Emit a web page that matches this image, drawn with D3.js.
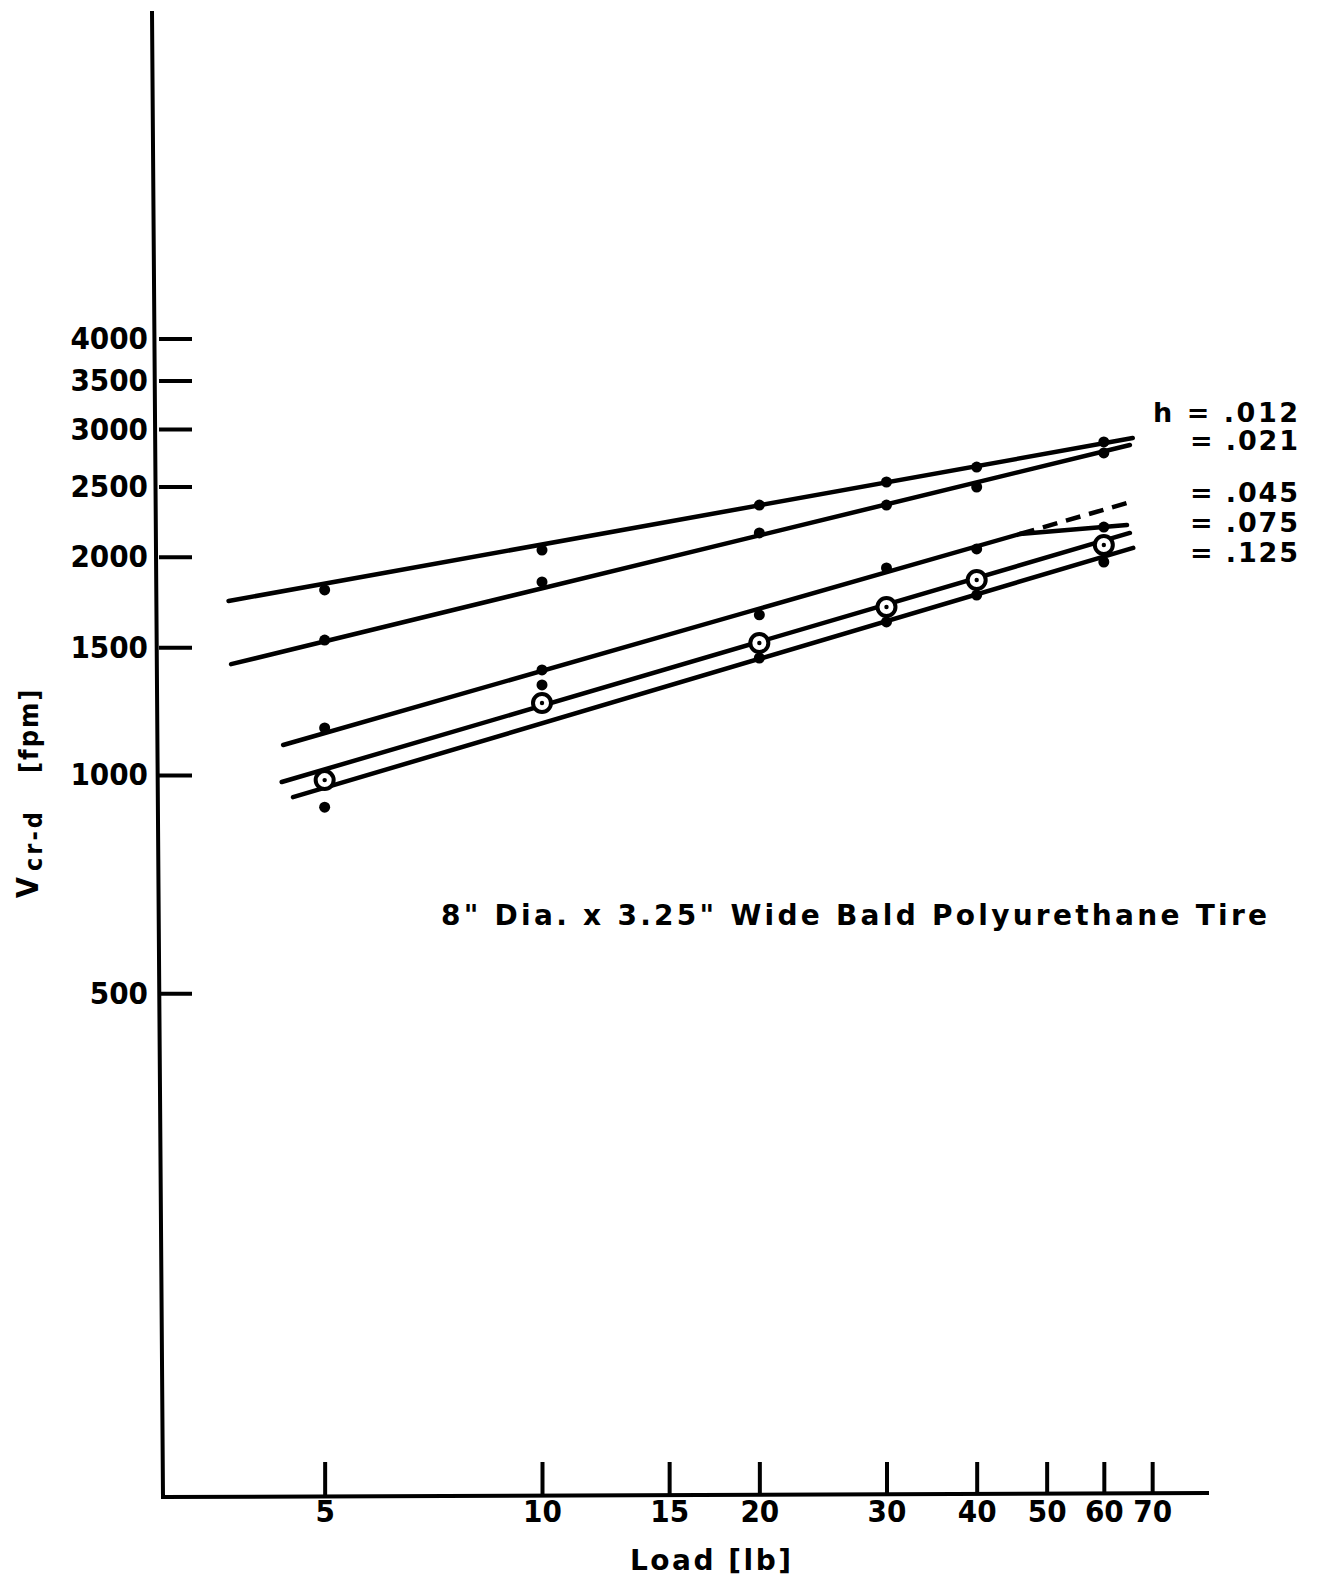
<!DOCTYPE html>
<html>
<head>
<meta charset="utf-8">
<script src="https://cdn.jsdelivr.net/npm/d3@7"></script>
<style>
  body { margin: 0; background: #fff; }
  svg { display: block; }
  text { font-family: "DejaVu Sans Condensed", "DejaVu Sans", sans-serif; fill: #000; font-weight: bold; }
</style>
</head>
<body>
<svg id="chart" width="1318" height="1580"></svg>
<script>
// tick values
const loadTicks = [5, 10, 15, 20, 30, 40, 50, 60, 70];
const speedTicks = [500, 1000, 1500, 2000, 2500, 3000, 3500, 4000];

// legend labels, top to bottom
const hLabels = ["h = .012", "= .021", "= .045", "= .075", "= .125"];

// measured points (load lb, Vcr-d fpm)
const load012 = [5, 10, 20, 30, 40, 60];
const v012 = [1800, 2043, 2357, 2536, 2659, 2880];
const load021 = [5, 10, 20, 30, 40, 60];
const v021 = [1535, 1846, 2157, 2357, 2496, 2781];
const load045 = [5, 10, 10, 20, 30, 40, 60];
const v045 = [1161, 1396, 1331, 1663, 1930, 2050, 2198];
const load075 = [5, 10, 20, 30, 40, 60];
const v075 = [984, 1257, 1521, 1705, 1858, 2076];
const load125 = [5, 20, 30, 40, 60];
const v125 = [903, 1450, 1626, 1771, 1967];

// drawn fit lines
const fitLoad012 = [3.68, 65.8];
const fitV012 = [1738, 2916];
const fitLoad021 = [3.71, 65.2];
const fitV021 = [1422, 2852];
const fitLoad045 = [4.38, 45.9, 64.6];
const fitV045 = [1100, 2150, 2212];
const dashLoad045 = [45.9, 64.6];
const dashV045 = [2150, 2372];
const fitLoad075 = [4.36, 65.2];
const fitV075 = [978, 2157];
const fitLoad125 = [4.52, 65.9];
const fitV125 = [932, 2057];

const svg = d3.select("#chart");

const x = d3.scaleLog()
  .domain([1, 100])
  .range([-180, 1264]);

const y = d3.scaleLog()
  .domain([100, 10000])
  .range([1500, 50]);

const zip = (xs, ys) => xs.map((d, i) => [d, ys[i]]);

// axis lines (hand drawn, slightly leaning)
svg.append("path")
  .attr("d", "M152,11 L163,1497 L1209,1493")
  .attr("fill", "none")
  .attr("stroke", "#000")
  .attr("stroke-width", 4);

// y axis ticks
const yAxis = svg.append("g")
  .attr("transform", "translate(159,0)")
  .call(d3.axisLeft(y)
    .tickValues(speedTicks)
    .tickFormat(d3.format("d"))
    .tickSizeInner(-33)
    .tickSizeOuter(0)
    .tickPadding(11));
yAxis.select(".domain").remove();
yAxis.selectAll("line").attr("stroke-width", 4);
yAxis.selectAll("text")
  .attr("font-size", 31)
  .attr("font-family", null);

// x axis ticks
const xAxis = svg.append("g")
  .attr("transform", "translate(0,1495)")
  .call(d3.axisBottom(x)
    .tickValues(loadTicks)
    .tickFormat(d3.format("d"))
    .tickSizeInner(-33)
    .tickSizeOuter(0)
    .tickPadding(5));
xAxis.select(".domain").remove();
xAxis.selectAll("line").attr("stroke-width", 4);
xAxis.selectAll("text")
  .attr("font-size", 31)
  .attr("font-family", null);

// fit lines
const line = d3.line()
  .x(d => x(d[0]))
  .y(d => y(d[1]));

const fits = [
  zip(fitLoad012, fitV012),
  zip(fitLoad021, fitV021),
  zip(fitLoad045, fitV045),
  zip(fitLoad075, fitV075),
  zip(fitLoad125, fitV125)
];

svg.append("g")
  .selectAll("path")
  .data(fits)
  .enter()
  .append("path")
  .attr("d", line)
  .attr("fill", "none")
  .attr("stroke", "#000")
  .attr("stroke-width", 4.5)
  .attr("stroke-linecap", "round");

// extrapolated h = .045
svg.append("path")
  .datum(zip(dashLoad045, dashV045))
  .attr("d", line)
  .attr("fill", "none")
  .attr("stroke", "#000")
  .attr("stroke-width", 4.5)
  .attr("stroke-dasharray", "15,9");

// solid points
const dots = [].concat(
  zip(load012, v012),
  zip(load021, v021),
  zip(load045, v045),
  zip(load125, v125)
);

svg.append("g")
  .selectAll("circle")
  .data(dots)
  .enter()
  .append("circle")
  .attr("cx", d => x(d[0]))
  .attr("cy", d => y(d[1]))
  .attr("r", 5.5)
  .attr("fill", "#000");

// open circles for h = .075
const rings = svg.append("g")
  .selectAll("g")
  .data(zip(load075, v075))
  .enter()
  .append("g")
  .attr("transform", d => `translate(${x(d[0])},${y(d[1])})`);
rings.append("circle")
  .attr("r", 9)
  .attr("fill", "#fff")
  .attr("stroke", "#000")
  .attr("stroke-width", 4);
rings.append("circle")
  .attr("r", 2.2)
  .attr("fill", "#000");

// legend on the right
const legendY = [422, 450, 502, 532, 562];
const legendW = [145, 108, 108, 108, 108];
svg.append("g")
  .selectAll("text")
  .data(hLabels)
  .enter()
  .append("text")
  .attr("x", (d, i) => 1298 - legendW[i])
  .attr("y", (d, i) => legendY[i])
  .attr("font-size", 27)
  .attr("textLength", (d, i) => legendW[i])
  .attr("lengthAdjust", "spacing")
  .style("font-family", "'DejaVu Sans', sans-serif")
  .style("white-space", "pre")
  .text(d => d);

// tire note
svg.append("text")
  .attr("x", 441)
  .attr("y", 925)
  .attr("font-size", 28)
  .attr("textLength", 826)
  .attr("lengthAdjust", "spacing")
  .style("font-family", "'DejaVu Sans', sans-serif")
  .text("8\" Dia. x 3.25\" Wide Bald Polyurethane Tire");

// x title
svg.append("text")
  .attr("x", 630)
  .attr("y", 1570)
  .attr("font-size", 28)
  .attr("textLength", 161)
  .attr("lengthAdjust", "spacing")
  .style("font-family", "'DejaVu Sans', sans-serif")
  .text("Load [lb]");

// y title, rotated
const yTitle = svg.append("g")
  .attr("transform", "translate(38,898) rotate(-90)");
yTitle.append("text")
  .attr("x", 0)
  .attr("y", 0)
  .attr("font-size", 30)
  .text("V");
yTitle.append("text")
  .attr("x", 27)
  .attr("y", 4)
  .attr("font-size", 25)
  .attr("letter-spacing", 3)
  .text("cr-d");
yTitle.append("text")
  .attr("x", 125)
  .attr("y", 0)
  .attr("font-size", 27)
  .attr("letter-spacing", 2)
  .text("[fpm]");
</script>
</body>
</html>
